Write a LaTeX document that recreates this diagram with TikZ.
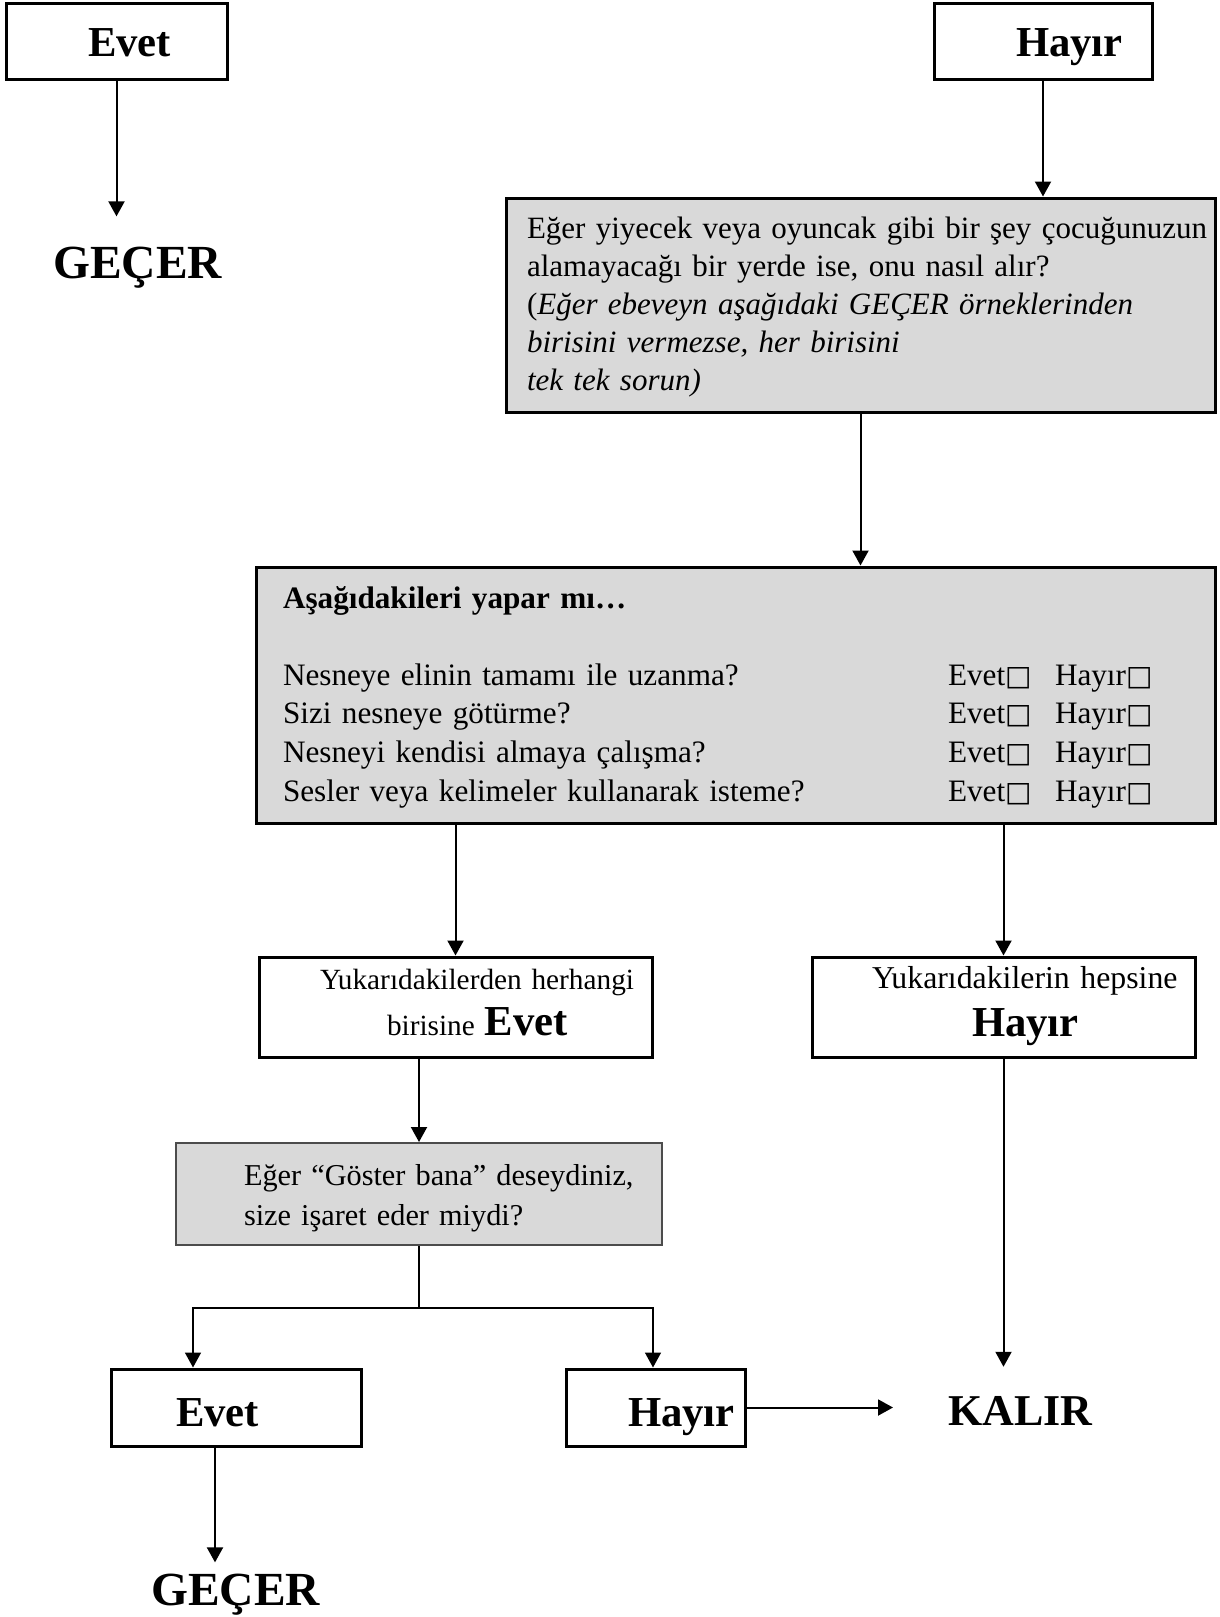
\documentclass[tikz,border=0pt]{standalone}
\usepackage{fontspec}
\setmainfont{Liberation Serif}
\newfontfamily\symfont{DejaVu Sans}
\usetikzlibrary{arrows.meta,calc}
\definecolor{boxgray}{RGB}{217,217,217}
% answer check box after Evet / Hayır
\newcommand\sq{{\symfont\fontsize{28}{28}\selectfont □}}
\tikzset{
  box/.style={draw, line width=3pt, inner xsep=0pt, inner ysep=0pt, align=left},
  shaded/.style={box, fill=boxgray},
  bigbold/.style={font=\fontsize{42.7}{46}\selectfont\bfseries},
  arr/.style={line width=2pt, -{Triangle[width=16pt,length=15pt]}},
  outcome/.style={inner sep=0pt, anchor=base west, font=\fontsize{47.5}{50}\selectfont\bfseries},
}
\begin{document}
\begin{tikzpicture}[x=1pt,y=-1pt]
\useasboundingbox (0,0) rectangle (1219,1617);

% top answers
\node[box, bigbold, minimum width=221pt, text width=221pt, minimum height=76pt,
      text height=30pt, text depth=0pt] (evetTop) at (116.5,41) {\hspace*{82pt}Evet};
\node[box, bigbold, minimum width=218pt, text width=218pt, minimum height=76pt,
      text height=30pt, text depth=0pt] (hayirTop) at (1043,41) {\hspace*{82pt}Hayır};
\node[outcome] (gecerTop) at (53,278) {GEÇER};

% first question
\node[shaded, minimum width=709pt, text width=709pt, minimum height=214pt,
      text height=22pt, text depth=156pt, font=\fontsize{31}{38}\selectfont] (q1) at (860.5,305) {%
\hspace*{21pt}\mbox{Eğer yiyecek veya oyuncak gibi bir şey çocuğunuzun}\\
\hspace*{21pt}\mbox{alamayacağı bir yerde ise, onu nasıl alır?}\\
\hspace*{21pt}\mbox{(\textit{Eğer ebeveyn aşağıdaki GEÇER örneklerinden}}\\
\hspace*{21pt}\mbox{\textit{birisini vermezse, her birisini}}\\
\hspace*{21pt}\mbox{\textit{tek tek sorun)}}};

% checklist
\node[shaded, minimum width=959pt, text width=959pt, minimum height=256pt,
      text height=22pt, text depth=196pt, font=\fontsize{31.2}{38.6}\selectfont] (q2) at (735.5,695) {%
\hspace*{27pt}\textbf{Aşağıdakileri yapar mı…}\\[38.6pt]
\hspace*{27pt}\makebox[665pt][l]{Nesneye elinin tamamı ile uzanma?}\makebox[107pt][l]{Evet\sq}Hayır\sq\\
\hspace*{27pt}\makebox[665pt][l]{Sizi nesneye götürme?}\makebox[107pt][l]{Evet\sq}Hayır\sq\\
\hspace*{27pt}\makebox[665pt][l]{Nesneyi kendisi almaya çalışma?}\makebox[107pt][l]{Evet\sq}Hayır\sq\\
\hspace*{27pt}\makebox[665pt][l]{Sesler veya kelimeler kullanarak isteme?}\makebox[107pt][l]{Evet\sq}Hayır\sq};

% summary of the checklist
\node[box, minimum width=393pt, text width=393pt, minimum height=100pt,
      text height=20pt, text depth=56pt, font=\fontsize{29.3}{46}\selectfont] (evetMid) at (455.5,1007) {%
\hspace*{61pt}\mbox{Yukarıdakilerden herhangi}\\
\hspace*{128pt}\mbox{birisine \textbf{\fontsize{42.7}{46}\selectfont Evet}}};
\node[box, minimum width=383pt, text width=383pt, minimum height=100pt,
      text height=20pt, text depth=58pt, font=\fontsize{31.8}{48}\selectfont] (hayirMid) at (1003.5,1007) {%
\hspace*{60pt}\mbox{Yukarıdakilerin hepsine}\\
\hspace*{160pt}\textbf{\fontsize{42.7}{46}\selectfont Hayır}};

% pointing question
\node[box, fill=boxgray, draw=black!70, line width=2pt, minimum width=486pt, text width=486pt,
      minimum height=102pt, text height=22pt, text depth=40pt,
      font=\fontsize{30.3}{40}\selectfont] (q3) at (419,1194) {%
\hspace*{68pt}\mbox{Eğer “Göster bana” deseydiniz,}\\
\hspace*{68pt}\mbox{size işaret eder miydi?}};

% bottom answers and outcomes
\node[box, bigbold, minimum width=250pt, text width=250pt, minimum height=77pt,
      text height=37pt, text depth=0pt] (evetBot) at (236,1407.5) {\hspace*{65pt}Evet};
\node[box, bigbold, minimum width=179pt, text width=179pt, minimum height=77pt,
      text height=37pt, text depth=0pt] (hayirBot) at (655.5,1407.5) {\hspace*{62pt}Hayır};
\node[outcome] (gecerBot) at (151,1605) {GEÇER};
\node[outcome, font=\fontsize{44}{46}\selectfont\bfseries] (kalir) at (948,1425) {KALIR};

% connectors
\draw[arr, shorten >=30pt] (evetTop.south) -- (evetTop.south |- gecerTop.north);
\draw[arr] (hayirTop.south) -- (hayirTop.south |- q1.north);
\draw[arr] (q1.south) -- (q1.south |- q2.north);
\draw[arr] (evetMid.north |- q2.south) -- (evetMid.north);
\draw[arr] (hayirMid.north |- q2.south) -- (hayirMid.north);
\draw[arr] (q3.north |- evetMid.south) -- (q3.north);
\draw[arr, shorten >=29pt] (hayirMid.south) -- (hayirMid.south |- kalir.north);

\coordinate (bl) at (193,1308);
\coordinate (br) at (653,1308);
\draw[arr, line width=1.6pt] (q3.south) |- (bl) -- (bl |- evetBot.north);
\draw[arr, line width=1.6pt] (q3.south |- br) -- (br) -- (br |- hayirBot.north);

\coordinate (eb) at ($(evetBot.south)+(-21,0)$);
\draw[arr, shorten >=11pt] (eb) -- (eb |- gecerBot.north);
\draw[arr, shorten >=55pt] (hayirBot.east) -- (hayirBot.east -| kalir.west);
\end{tikzpicture}
\end{document}
